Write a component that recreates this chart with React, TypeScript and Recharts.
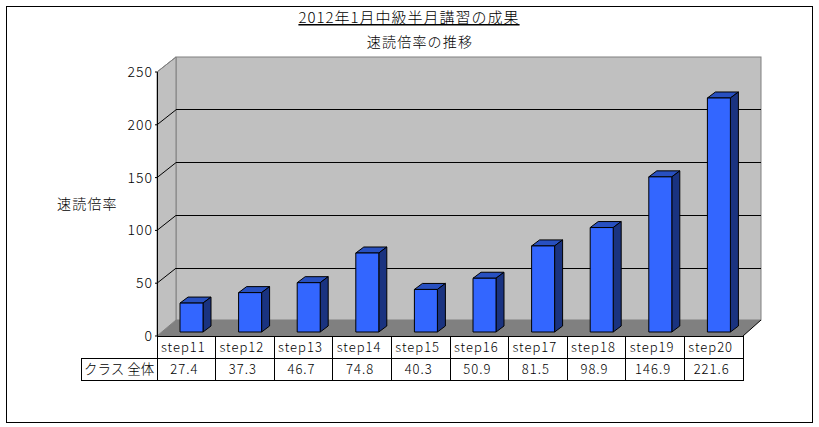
import { BarChart, Bar, XAxis, YAxis, CartesianGrid } from "recharts";

const steps = ["step11", "step12", "step13", "step14", "step15", "step16", "step17", "step18", "step19", "step20"];
const classTotal = [27.4, 37.3, 46.7, 74.8, 40.3, 50.9, 81.5, 98.9, 146.9, 221.6];
const yTicks = [0, 50, 100, 150, 200, 250];
const rowLabel = "クラス 全体";

const chartData = steps.map((step, i) => ({ step, value: classTotal[i] }));

const FONT = '"Noto Sans CJK JP", "Liberation Sans", sans-serif';
const W = 819;
const H = 427;
// bars stand a little behind the front edge of the floor
const LEFT = 157;
const FRONT_BOTTOM = 336;
const CELL = 58.6;
const SHIFT_X = 5;
const SHIFT_Y = 4;
const TOP = 68;
const BACK_DX = 19;
const BACK_DY = 16;

function GridLine(props: any) {
  const { y1, x2 } = props;
  if (y1 > 330) return <g />;
  const fy = y1 + SHIFT_Y;
  const by = fy - BACK_DY + 1;
  const isTop = y1 < TOP + 1;
  return (
    <g stroke="#000" strokeWidth={1} fill="none">
      <line x1={LEFT} y1={fy} x2={LEFT + BACK_DX} y2={by} stroke={isTop ? "#808080" : "#000"} />
      {!isTop && <line x1={LEFT + BACK_DX} y1={by} x2={x2 + 13} y2={by} shapeRendering="crispEdges" />}
    </g>
  );
}

function Bar3D(props: any) {
  const { x, y, width, height } = props;
  const dx = 8;
  const dy = 6;
  return (
    <g stroke="#000" strokeWidth={1} strokeLinejoin="round">
      <polygon points={`${x},${y} ${x + dx},${y - dy} ${x + width + dx},${y - dy} ${x + width},${y}`} fill="#2850C0" />
      <polygon points={`${x + width},${y} ${x + width + dx},${y - dy} ${x + width + dx},${y + height - dy} ${x + width},${y + height}`} fill="#1A3380" />
      <rect x={x} y={y} width={width} height={height} fill="#3366FF" />
    </g>
  );
}

function YTick(props: any) {
  const { y, payload } = props;
  const fy = y + SHIFT_Y;
  return (
    <g>
      <line x1={LEFT - 2} y1={fy} x2={LEFT} y2={fy} stroke="#000" />
      <text x={LEFT - 4} y={fy + 5} textAnchor="end" fontFamily={FONT} fontWeight={300} fontSize={14} letterSpacing={1} fill="#000">
        {payload.value}
      </text>
    </g>
  );
}

function XTick(props: any) {
  const { x, index, payload } = props;
  const left = x - SHIFT_X - CELL / 2;
  const cx = x - SHIFT_X;
  return (
    <g>
      <g stroke="#000" fill="#fff" shapeRendering="crispEdges">
        <rect x={left} y={FRONT_BOTTOM} width={CELL} height={22} />
        <rect x={left} y={FRONT_BOTTOM + 22} width={CELL} height={22} />
      </g>
      <text x={cx - 3} y={FRONT_BOTTOM + 16} textAnchor="middle" fontFamily={FONT} fontWeight={300} fontSize={13} letterSpacing={1} fill="#000">
        {payload.value}
      </text>
      <text x={cx - 2} y={FRONT_BOTTOM + 38} textAnchor="middle" fontFamily={FONT} fontWeight={300} fontSize={13} letterSpacing={1} fill="#000">
        {classTotal[index]}
      </text>
    </g>
  );
}

function Backdrop() {
  const right = LEFT + CELL * 10;
  const backL = LEFT + BACK_DX;
  const backR = right + 18;
  const backTop = 57;
  const backBottom = FRONT_BOTTOM - BACK_DY;
  return (
    <svg width={W} height={H} style={{ position: "absolute", left: 0, top: 0 }}>
      <rect x={6.5} y={6.5} width={806} height={416} fill="#fff" stroke="#000" strokeWidth={1} shapeRendering="crispEdges" />
      <rect x={backL} y={backTop} width={backR - backL} height={backBottom - backTop} fill="#C0C0C0" stroke="#808080" />
      <polygon points={`${LEFT},72 ${backL},${backTop} ${backL},${backBottom} ${LEFT},${FRONT_BOTTOM}`} fill="#C0C0C0" stroke="#808080" />
      <polygon points={`${LEFT},${FRONT_BOTTOM} ${backL},${backBottom} ${backR},${backBottom} ${right},${FRONT_BOTTOM}`} fill="#808080" />
      <line x1={right} y1={FRONT_BOTTOM} x2={backR} y2={backBottom} stroke="#000" />
      <line x1={LEFT} y1={72} x2={LEFT} y2={FRONT_BOTTOM} stroke="#000" shapeRendering="crispEdges" />
      <rect x={81} y={FRONT_BOTTOM + 22} width={LEFT - 81} height={22} fill="#fff" stroke="#000" shapeRendering="crispEdges" />
      <text x={84} y={FRONT_BOTTOM + 38} fontFamily={FONT} fontWeight={300} fontSize={13.5} fill="#000">{rowLabel}</text>
      <text x={409} y={23} textAnchor="middle" fontFamily={FONT} fontWeight={300} fontSize={15} letterSpacing={1} textDecoration="underline" fill="#000">
        2012年1月中級半月講習の成果
      </text>
      <text x={420} y={47} textAnchor="middle" fontFamily={FONT} fontWeight={300} fontSize={14} letterSpacing={1.2} fill="#000">
        速読倍率の推移
      </text>
      <text x={57} y={209} fontFamily={FONT} fontWeight={300} fontSize={14} letterSpacing={1.2} fill="#000">
        速読倍率
      </text>
    </svg>
  );
}

export default function App() {
  return (
    <div style={{ position: "absolute", left: 0, top: 0, width: W, height: H, overflow: "hidden", background: "#fff" }}>
      <Backdrop />
      <div style={{ position: "absolute", left: 0, top: 0 }}>
        <BarChart
          width={W}
          height={H}
          data={chartData}
          margin={{ top: TOP, right: 71, left: 112, bottom: 45 }}
        >
          <CartesianGrid vertical={false} horizontal={(p: any) => <GridLine key={p.key} {...p} />} />
          <XAxis dataKey="step" interval={0} height={50} axisLine={false} tickLine={false} tick={<XTick />} />
          <YAxis width={50} domain={[0, 250]} ticks={yTicks} axisLine={false} tickLine={false} tick={<YTick />} />
          <Bar dataKey="value" barSize={23} shape={<Bar3D />} isAnimationActive={false} />
        </BarChart>
      </div>
    </div>
  );
}
